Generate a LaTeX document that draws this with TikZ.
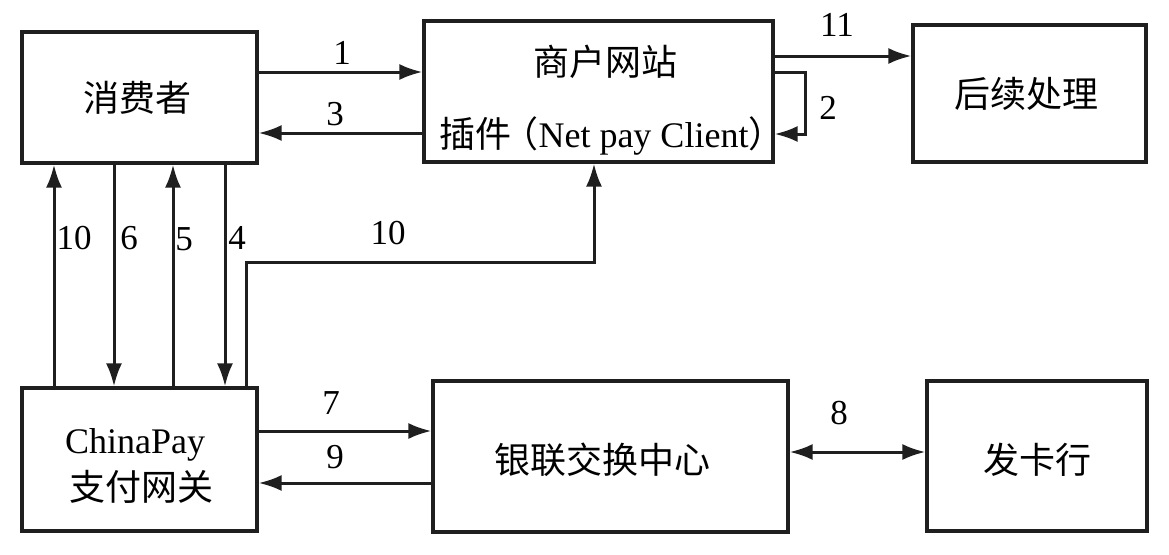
\documentclass[tikz,border=0pt]{standalone}
\usepackage{fontspec}
\setmainfont{Liberation Serif}
\newfontfamily\cjk{Noto Sans CJK SC}
\usetikzlibrary{arrows.meta,calc}
\tikzset{
  box/.style={draw=black!88, line width=3.2pt, inner sep=0pt, rectangle},
  txt/.style={inner sep=0pt, font=\fontsize{36}{40}\selectfont\cjk},
  lat/.style={inner sep=0pt, font=\fontsize{36}{40}\selectfont},
  num/.style={inner sep=0pt, font=\fontsize{35}{40}\selectfont},
  tip/.tip={Latex[length=23pt,width=16pt]},
  arr/.style={draw=black!88, line width=3pt, -tip},
  darr/.style={draw=black!88, line width=3pt, tip-tip},
}
\begin{document}
\begin{tikzpicture}[x=1pt,y=-1pt]
\useasboundingbox[fill=white] (0,0) rectangle (1169,554);
% boxes
\node[box, minimum width=235pt, minimum height=131pt] (cons) at (139.5,97.5) {};
\node[box, minimum width=349pt, minimum height=141pt] (merch) at (598.5,91.5) {};
\node[box, minimum width=233pt, minimum height=137pt] (post) at (1029.5,93.5) {};
\node[box, minimum width=235pt, minimum height=143pt] (gate) at (139.5,459.5) {};
\node[box, minimum width=355pt, minimum height=151pt] (union) at (610.5,456.5) {};
\node[box, minimum width=220pt, minimum height=150pt] (issuer) at (1037,456) {};
% texts
\node[txt] (tcons) at (137,98) {消费者};
\node[txt] (tmerch) at (605,62) {商户网站};
\node[lat, anchor=base] (tplug) at (612,147) {{\cjk 插件\hspace{-9pt}（}Net pay Client{\cjk ）}};
\node[txt] (tpost) at (1026,94) {后续处理};
\node[lat, anchor=base] (tgate1) at (135,453) {ChinaPay};
\node[txt] (tgate2) at (141,487) {支付网关};
\node[txt] (tunion) at (602,460) {银联交换中心};
\node[txt] (tissuer) at (1037,460) {发卡行};
% helper coordinates
\coordinate (y1) at (0,72);
\coordinate (y3) at (0,133);
\coordinate (y2b) at (0,134);
\coordinate (y11) at (0,56);
\coordinate (y7) at (0,431);
\coordinate (y9) at (0,483);
\coordinate (y8) at (0,452);
\coordinate (v1) at (54,0);
\coordinate (v2) at (114,0);
\coordinate (v3) at (173,0);
\coordinate (v4) at (225,0);
\coordinate (v5) at (246,0);
\coordinate (h10) at (594,262);
% connectors
\draw[arr] (cons.east |- y1) -- (merch.west |- y1);
\draw[arr] (merch.west |- y3) -- (cons.east |- y3);
\draw[arr] (merch.east |- y1) -- ++(31,0) |- (merch.east |- y2b);
\draw[arr] (merch.east |- y11) -- (post.west |- y11);
\draw[arr] (gate.north -| v1) -- (cons.south -| v1);
\draw[arr] (cons.south -| v2) -- (gate.north -| v2);
\draw[arr] (gate.north -| v3) -- (cons.south -| v3);
\draw[arr] (cons.south -| v4) -- (gate.north -| v4);
\draw[arr] (gate.north -| v5) |- (h10) -- (merch.south -| h10);
\draw[arr] (gate.east |- y7) -- (union.west |- y7);
\draw[arr] (union.west |- y9) -- (gate.east |- y9);
\draw[darr] (union.east |- y8) -- (issuer.west |- y8);
% labels
\node[num] (l1) at (342,53) {1};
\node[num] (l3) at (335,114) {3};
\node[num] (l11) at (837,25) {11};
\node[num] (l2) at (828,108) {2};
\node[num] (l10a) at (74,238) {10};
\node[num] (l6) at (129,238) {6};
\node[num] (l5) at (184,239) {5};
\node[num] (l4) at (237,238) {4};
\node[num] (l10b) at (388,233) {10};
\node[num] (l7) at (331,403) {7};
\node[num] (l9) at (335,457) {9};
\node[num] (l8) at (839,413) {8};
\end{tikzpicture}
\end{document}
